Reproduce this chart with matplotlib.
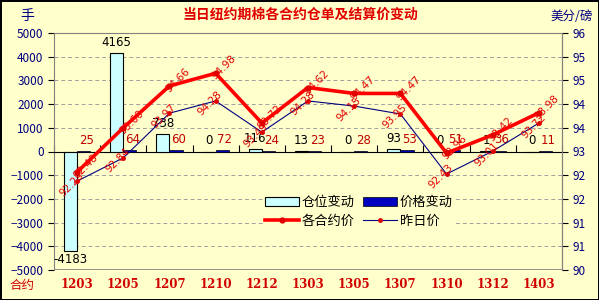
import numpy as np
import matplotlib
matplotlib.use('Agg')
import matplotlib.pyplot as plt
from matplotlib.patches import Patch
from matplotlib.lines import Line2D

plt.rcParams['font.family'] = ['Noto Sans CJK SC', 'DejaVu Sans']

# data
contracts = ['1203', '1205', '1207', '1210', '1212', '1303', '1305', '1307', '1310', '1312', '1403']
pos_change = [-4183, 4165, 738, 0, 116, 13, 0, 93, 0, 1, 0]
price_change = [25, 64, 60, 72, 24, 23, 28, 53, 51, 36, 11]
settle = [92.48, 93.60, 94.66, 94.98, 93.72, 94.62, 94.47, 94.47, 92.96, 93.42, 93.98]
prev_settle = [92.25, 92.84, 93.97, 94.28, 93.49, 94.28, 94.15, 93.95, 92.43, 93.01, 93.72]

bg = '#FFFFCC'
navy = '#000080'
red = '#E00000'

fig = plt.figure(figsize=(5.99, 3.0), dpi=100, facecolor=bg,
                 edgecolor='black', linewidth=2)
ax = fig.add_axes([54/599, 30/300, 508/599, 237/300])
ax.set_facecolor(bg)
ax2 = ax.twinx()

x = np.arange(len(contracts))
w = 0.285

# bars on the left axis
ax.bar(x - w/2, pos_change, w, color='#CCFFFF', edgecolor='black', linewidth=0.8, zorder=3)
ax.bar(x + w/2, price_change, w, color='#0000C0', edgecolor='black', linewidth=0.5, zorder=3)

for i in range(len(x)):
    v = pos_change[i]
    if v < 0:
        ax.annotate(str(v), (x[i] - w/2, v), xytext=(0, -2), textcoords='offset points',
                    ha='center', va='top', fontsize=8.5, color='black', family='DejaVu Sans')
    else:
        ax.annotate(str(v), (x[i] - w/2, v), xytext=(0, 3), textcoords='offset points',
                    ha='center', va='bottom', fontsize=8.5, color='black', family='DejaVu Sans')
    ax.annotate(str(price_change[i]), (x[i] + w/2, price_change[i]), xytext=(2, 3),
                textcoords='offset points', ha='center', va='bottom', fontsize=8.5,
                color='#C00000', family='DejaVu Sans')

ax.set_xlim(-0.5, len(x) - 0.5)
ax.set_ylim(-5000, 5000)
ax.set_yticks(np.arange(-5000, 5001, 1000))
ax.yaxis.grid(True, color='#A0A0A0', linestyle=(0, (4, 3)), linewidth=0.7)
ax.set_axisbelow(True)
ax.tick_params(axis='y', labelsize=8.5, length=4, labelcolor=navy, color='black')

# category axis through zero, labels at the bottom
ax.spines['bottom'].set_position(('data', 0))
ax.spines['bottom'].set_color('black')
ax.set_xticks(np.arange(-0.5, len(x), 1.0))
ax.set_xticklabels([])
ax.tick_params(axis='x', direction='in', length=5, color='black')
for s in ['left', 'top', 'right']:
    ax.spines[s].set_color('#808080')
ax.axhline(-5000, color='#808080', linewidth=1.2, zorder=4)
for i, c in enumerate(contracts):
    ax.text(x[i], -0.06, c, transform=ax.get_xaxis_transform(), ha='center', va='center',
            fontsize=8.5, fontweight='bold', color='#D00000', family='DejaVu Serif')

# price lines on the right axis
ax2.plot(x, prev_settle, color=navy, linewidth=0.8, marker='o', markersize=2.5,
         markerfacecolor=red, markeredgecolor=red, zorder=3)
ax2.plot(x, settle, color='#FF0000', linewidth=2.6, marker='o', markersize=3.5,
         markerfacecolor=red, markeredgecolor=red, zorder=4)
for i in range(len(x)):
    ax2.annotate('%.2f' % settle[i], (x[i], settle[i]), xytext=(6, 4), textcoords='offset points',
                 ha='center', va='center', rotation=45, fontsize=7.5, color='#E00000',
                 family='DejaVu Sans')
    ax2.annotate('%.2f' % prev_settle[i], (x[i], prev_settle[i]), xytext=(-4, -2),
                 textcoords='offset points', ha='center', va='center', rotation=45,
                 fontsize=7.5, color='#E00000', family='DejaVu Sans')

rt = np.linspace(90, 96, 11)
ax2.set_ylim(90, 96)
ax2.set_yticks(rt)
ax2.set_yticklabels(['%.0f' % t for t in rt])
ax2.tick_params(axis='y', labelcolor=navy, labelsize=8.5, length=4, color='black')
for s in ['left', 'top', 'right', 'bottom']:
    ax2.spines[s].set_visible(False)
ax2.spines['right'].set_visible(True)
ax2.spines['right'].set_color('#808080')

handles = [Patch(facecolor='#CCFFFF', edgecolor='black', linewidth=0.8),
           Line2D([], [], color='#FF0000', linewidth=2.6, marker='o', markersize=3.5,
                  markerfacecolor=red, markeredgecolor=red),
           Patch(facecolor='#0000C0', edgecolor='black', linewidth=0.5),
           Line2D([], [], color=navy, linewidth=0.8, marker='o', markersize=2.5,
                  markerfacecolor=red, markeredgecolor=red)]
labels = ['仓位变动', '各合约价', '价格变动', '昨日价']
leg = ax2.legend(handles, labels, ncol=2, loc='center', bbox_to_anchor=(0.6, 0.245),
                 fontsize=9.5, frameon=True, facecolor=bg, edgecolor=bg, framealpha=1,
                 handlelength=2.6, handleheight=0.6, columnspacing=0.6, handletextpad=0.2,
                 labelspacing=0.4, borderpad=0.1)

fig.text(300/599, 1 - 15/300, '当日纽约期棉各合约仓单及结算价变动', ha='center', va='center',
         fontsize=10, fontweight='bold', color='#E00000')
fig.text(20/599, 1 - 16/300, '手', ha='left', va='center', fontsize=10, color=navy)
fig.text(593/599, 1 - 16/300, '美分/磅', ha='right', va='center', fontsize=9, color=navy)
fig.text(10/599, 1 - 285/300, '合约', ha='left', va='center', fontsize=9, color='#D00000')

fig.savefig('out.png', dpi=100, facecolor=bg, edgecolor='black')
